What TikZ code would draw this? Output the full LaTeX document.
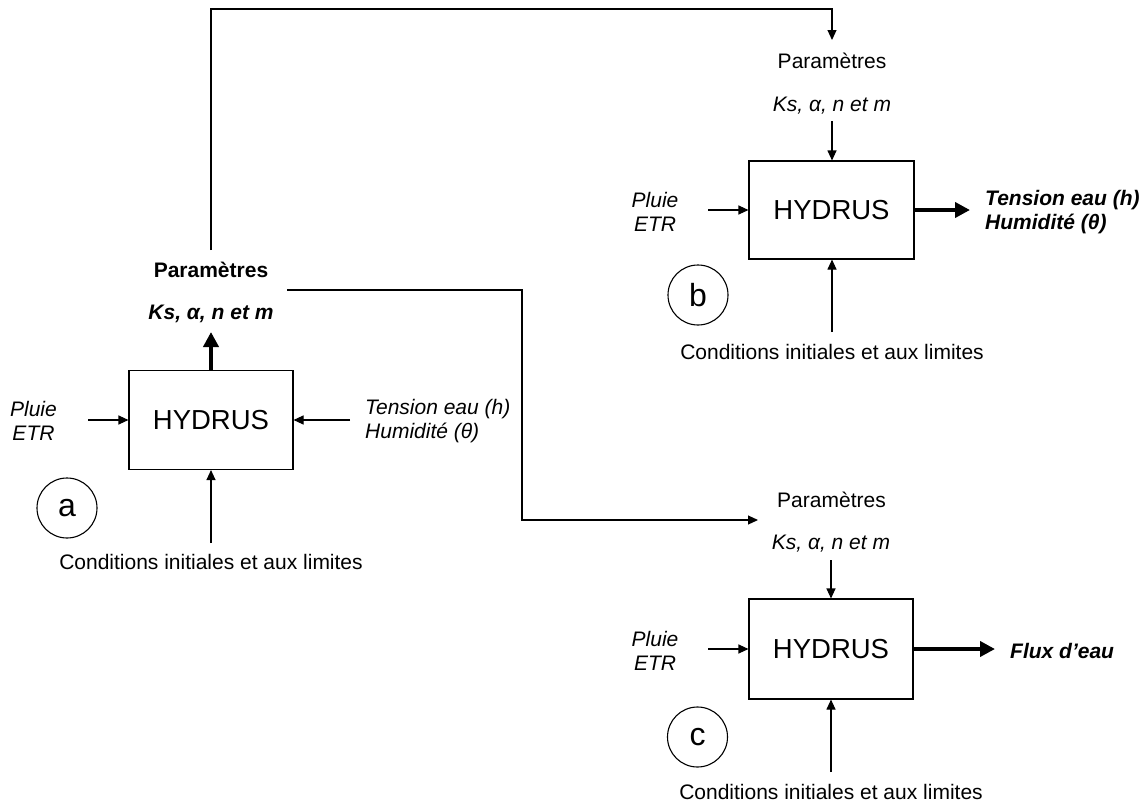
\documentclass[tikz,border=0pt]{standalone}
\usepackage{fontspec}
\setmainfont{Liberation Sans}
\usetikzlibrary{arrows.meta}
\tikzset{
  hbox/.style={draw, line width=1.1pt, minimum width=164pt, minimum height=99pt, inner sep=0pt,
    font=\fontsize{27.5}{32}\selectfont},
  lbl/.style={inner sep=0pt, font=\fontsize{21}{24}\selectfont},
  lblml/.style={inner sep=0pt, font=\fontsize{21}{24}\selectfont, align=center},
  tag/.style={draw, circle, line width=1.1pt, minimum size=60pt, inner sep=0pt,
    font=\fontsize{32}{35}\selectfont},
  thin/.style={line width=1.1pt, -{Triangle[length=10pt,width=9pt]}},
  link/.style={line width=1.1pt},
  thick/.style={line width=3.8pt, -{Triangle[length=15pt,width=15pt]}},
}
\begin{document}
\begin{tikzpicture}[x=1pt,y=-1pt]
\useasboundingbox (0,0) rectangle (1145,803);
% ---------- a ----------
\node[hbox] (boxA) at (211,420) {HYDRUS};
\node[lbl, anchor=base, font=\fontsize{21}{24}\selectfont\bfseries] (parA) at (211,277.5) {Paramètres};
\node[lbl, anchor=base, font=\fontsize{21}{24}\selectfont\bfseries\itshape] (ksA) at (211,319.5) {Ks, α, n et m};
\node[lblml, font=\fontsize{21}{24}\selectfont\itshape] (plA) at (33.5,421) {Pluie\\ETR};
\node[lblml, align=left, anchor=west, font=\fontsize{21}{24}\selectfont\itshape] (tensA) at (365,421.5) {Tension eau (h)\\Humidité (θ)};
\node[lbl, anchor=base] (condA) at (211,569.5) {Conditions initiales et aux limites};
\node[tag] (tagA) at (67,508) {a};
\coordinate (tipA) at (211,332);
\coordinate (plAs) at (88,420);
\coordinate (tensAs) at (350,420);
\coordinate (condAs) at (211,543);
\draw[thick] (boxA.north) -- (tipA);
\draw[thin] (plAs) -- (boxA.west);
\draw[thin] (tensAs) -- (boxA.east);
\draw[thin] (condAs) -- (boxA.south);
% ---------- b ----------
\node[hbox, minimum width=165pt, minimum height=98pt] (boxB) at (831.5,210) {HYDRUS};
\node[lbl, anchor=base] (parB) at (832,68.5) {Paramètres};
\node[lbl, anchor=base, font=\fontsize{21}{24}\selectfont\itshape] (ksB) at (832,111.5) {Ks, α, n et m};
\node[lblml, font=\fontsize{21}{24}\selectfont\itshape] (plB) at (655,212) {Pluie\\ETR};
\node[lblml, align=left, anchor=west, font=\fontsize{21}{24}\selectfont\bfseries\itshape] (tensB) at (985,212) {Tension eau (h)\\Humidité (θ)};
\node[lbl, anchor=base] (condB) at (832,359.5) {Conditions initiales et aux limites};
\node[tag] (tagB) at (698,295) {b};
\coordinate (ksBs) at (832,121);
\coordinate (plBs) at (708,210);
\coordinate (outB) at (970,210);
\coordinate (condBs) at (832,332);
\draw[thin] (ksBs) -- (ksBs |- boxB.north);
\draw[thin] (plBs) -- (boxB.west);
\draw[thick] (boxB.east) -- (outB);
\draw[thin] (condBs) -- (condBs |- boxB.south);
% ---------- c ----------
\node[hbox, minimum height=100pt] (boxC) at (831,649) {HYDRUS};
\node[lbl, anchor=base] (parC) at (831.5,507.5) {Paramètres};
\node[lbl, anchor=base, font=\fontsize{21}{24}\selectfont\itshape] (ksC) at (831,549.5) {Ks, α, n et m};
\node[lblml, font=\fontsize{21}{24}\selectfont\itshape] (plC) at (655,651) {Pluie\\ETR};
\node[lbl, anchor=west, font=\fontsize{21}{24}\selectfont\bfseries\itshape] (fluxC) at (1010,651) {Flux d’eau};
\node[lbl, anchor=base] (condC) at (831,799.5) {Conditions initiales et aux limites};
\node[tag] (tagC) at (697.5,737) {c};
\coordinate (ksCs) at (831,560);
\coordinate (plCs) at (708,649);
\coordinate (outC) at (995,649);
\coordinate (condCs) at (831,772);
\draw[thin] (ksCs) -- (boxC.north);
\draw[thin] (plCs) -- (boxC.west);
\draw[thick] (boxC.east) -- (outC);
\draw[thin] (condCs) -- (boxC.south);
% ---------- connections ----------
\coordinate (upA) at (211,250);
\coordinate (topL) at (211,9);
\coordinate (topR) at (832,9);
\coordinate (tipB) at (832,40);
\draw[link, -{Triangle[length=10pt,width=9pt]}] (upA) -- (topL) -- (topR) -- (tipB);
\coordinate (rA) at (287,290);
\coordinate (m1) at (522,290);
\coordinate (m2) at (522,520);
\coordinate (tipC) at (758,520);
\draw[link, -{Triangle[length=10pt,width=9pt]}] (rA) -- (m1) -- (m2) -- (tipC);
\end{tikzpicture}
\end{document}
